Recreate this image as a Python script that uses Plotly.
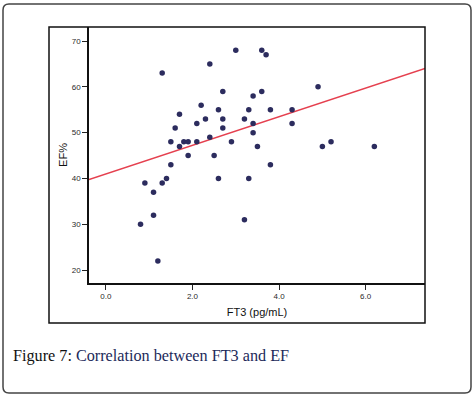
import plotly.graph_objects as go

# FT3 (pg/mL) values
ft3 = [1.3, 3.0, 3.6, 3.7, 2.4, 4.9, 2.7, 3.6, 3.4, 2.2,
       2.6, 3.3, 3.8, 4.3, 1.7, 2.3, 2.7, 3.2, 2.1, 3.4,
       4.3, 1.6, 2.7, 3.4, 2.4, 1.5, 1.8, 1.9, 2.1, 2.9,
       5.2, 1.7, 3.5, 5.0, 6.2, 1.9, 2.5, 1.5, 3.8, 1.4,
       2.6, 3.3, 0.9, 1.3, 1.1, 1.1, 0.8, 3.2, 1.2]
# EF (%) values
ef = [63, 68, 68, 67, 65, 60, 59, 59, 58, 56,
      55, 55, 55, 55, 54, 53, 53, 53, 52, 52,
      52, 51, 51, 50, 49, 48, 48, 48, 48, 48,
      48, 47, 47, 47, 47, 45, 45, 43, 43, 40,
      40, 40, 39, 39, 37, 32, 30, 31, 22]

# Fit line as drawn in the chart
fit_intercept = 41.0
fit_slope = 3.12

x_range = [-0.39, 7.37]
y_range = [17.2, 73.06]
x_ticks = [0, 2, 4, 6]
x_ticktext = ["0.0", "2.0", "4.0", "6.0"]
y_ticks = [20, 30, 40, 50, 60, 70]

fit_x = x_range
fit_y = [fit_intercept + fit_slope * v for v in fit_x]

fig = go.Figure()
fig.add_trace(go.Scatter(x=fit_x, y=fit_y, mode="lines",
                         line=dict(color="#e5404f", width=1.5),
                         hoverinfo="skip", showlegend=False))
fig.add_trace(go.Scatter(x=ft3, y=ef, mode="markers",
                         marker=dict(color="#2c2c5e", size=5.5),
                         showlegend=False))

axis_font = dict(family="Liberation Sans, Arial, sans-serif", size=8, color="#2a2a2a")
fig.update_xaxes(range=x_range, tickvals=x_ticks, ticktext=x_ticktext,
                 ticks="outside", ticklen=5, tickcolor="#222", tickwidth=1,
                 showline=True, linecolor="#111", linewidth=1.5,
                 showgrid=False, zeroline=False, tickfont=axis_font,
                 title=dict(text="FT3 (pg/mL)", standoff=8,
                            font=dict(family="Liberation Sans, Arial, sans-serif", size=11, color="#111")))
fig.update_yaxes(range=y_range, tickvals=y_ticks,
                 ticks="outside", ticklen=5, tickcolor="#222", tickwidth=1,
                 showline=True, linecolor="#111", linewidth=1.5,
                 showgrid=False, zeroline=False, tickfont=axis_font,
                 title=dict(text="EF%", standoff=2,
                            font=dict(family="Liberation Sans, Arial, sans-serif", size=11, color="#111")))

# geometry helpers (paper coords)
W, H = 474, 396
L, R, T, B = 89, 425, 27, 283
pw, ph = R - L, B - T
def px(x):
    return (x - L) / pw
def py(y):
    return (B - y) / ph

# outer card with rounded corners
x0, x1, y0, y1 = px(3), px(471), py(4), py(393)
rx, ry = 6 / pw, 6 / ph
path = (f"M {x0+rx},{y0} L {x1-rx},{y0} Q {x1},{y0} {x1},{y0-ry} "
        f"L {x1},{y1+ry} Q {x1},{y1} {x1-rx},{y1} "
        f"L {x0+rx},{y1} Q {x0},{y1} {x0},{y1+ry} "
        f"L {x0},{y0-ry} Q {x0},{y0} {x0+rx},{y0} Z")
fig.add_shape(type="path", path=path, xref="paper", yref="paper",
              line=dict(color="#444", width=1.5), layer="below")
# inner figure box
fig.add_shape(type="rect", xref="paper", yref="paper",
              x0=px(49), x1=px(425), y0=py(323), y1=py(27),
              line=dict(color="#111", width=1.5))

fig.add_annotation(xref="paper", yref="paper", x=px(11), y=py(356),
                   xanchor="left", yanchor="middle", showarrow=False,
                   text="Figure 7: <span style='color:#1d2a5a'>Correlation between FT3 and EF</span>",
                   font=dict(family="Liberation Serif, Times New Roman, serif", size=16.2, color="#111"))

fig.update_layout(width=W, height=H,
                  margin=dict(l=L, r=W - R, t=T, b=H - B, autoexpand=False),
                  paper_bgcolor="white", plot_bgcolor="white")

fig.write_html("out.html", config={"displayModeBar": False},
               post_script="document.body.style.margin='0';document.body.style.overflow='hidden';")
